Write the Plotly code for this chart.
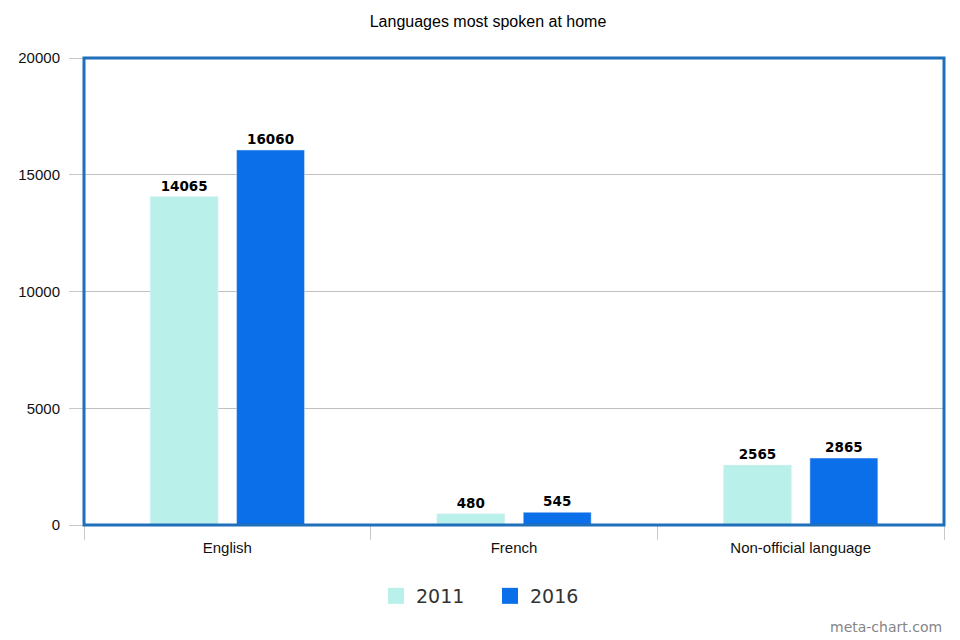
import plotly.graph_objects as go

categories = ["English", "French", "Non-official language"]
values_2011 = [14065, 480, 2565]
values_2016 = [16060, 545, 2865]
y_ticks = [0, 5000, 10000, 15000, 20000]
series_names = ["2011", "2016"]
series_colors = ["#b9f1ea", "#0a6fe8"]

x_pos = list(range(len(categories)))
label_font = dict(family="DejaVu Sans", size=13.5, color="#000000")

fig = go.Figure()
for name, vals, col in zip(series_names, [values_2011, values_2016], series_colors):
    fig.add_trace(go.Bar(
        name=name, x=x_pos, y=vals, marker_color=col, showlegend=False,
        text=[str(v) for v in vals], textposition="outside",
        textfont=label_font, texttemplate="<b>%{text}</b>", cliponaxis=False,
    ))
# legend entries with large square swatches
for name, col in zip(series_names, series_colors):
    fig.add_trace(go.Scatter(
        name=name, x=[None], y=[None], mode="markers",
        marker=dict(symbol="square", size=22, color=col), showlegend=True,
    ))

fig.update_layout(
    width=960, height=640,
    margin=dict(l=76, r=24, t=50, b=123),
    paper_bgcolor="white", plot_bgcolor="white",
    title=dict(text="Languages most spoken at home", x=0.5, xanchor="center",
               y=1 - 13 / 640, yanchor="middle",
               font=dict(family="Liberation Sans, Arial", size=16, color="#000000")),
    barmode="group", bargap=0.397, bargroupgap=0.214,
    font=dict(family="Liberation Sans, Arial", size=15, color="#222222"),
    xaxis=dict(
        range=[-0.5, 2.5], tickmode="array", tickvals=x_pos, ticktext=categories,
        ticks="", showgrid=False, zeroline=False, showline=False, automargin=False,
        tickfont=dict(size=15, color="#111111"), ticklabelstandoff=12,
        minor=dict(tickmode="array", tickvals=[-0.5, 0.5, 1.5, 2.5], ticks="outside",
                   ticklen=14, tickcolor="#c8c8c8", tickwidth=1, showgrid=False),
    ),
    yaxis=dict(
        range=[0, 20000], tickmode="array", tickvals=y_ticks,
        ticktext=[str(v) for v in y_ticks], automargin=False,
        ticks="outside", ticklen=14, tickcolor="#c8c8c8",
        showgrid=True, gridcolor="#c0c0c0", gridwidth=1,
        zeroline=False, showline=False,
        tickfont=dict(size=15, color="#111111"), ticklabelstandoff=6,
    ),
    legend=dict(orientation="h", x=(368 - 76) / 860, xanchor="left",
                y=-(588 - 517) / 467, yanchor="middle",
                font=dict(family="DejaVu Sans", size=19, color="#333333"),
                itemsizing="trace", itemwidth=30, entrywidth=69,
                traceorder="normal"),
    shapes=[dict(type="rect", xref="paper", yref="paper", x0=0, x1=1, y0=0, y1=1,
                 line=dict(color="#1f6fba", width=3), fillcolor="rgba(0,0,0,0)",
                 layer="above")],
    annotations=[dict(text="meta-chart.com", xref="paper", yref="paper",
                      x=1, xanchor="right", y=-(619 - 517) / 467, yanchor="middle",
                      showarrow=False,
                      font=dict(family="DejaVu Sans", size=14, color="#858585"))],
)

fig.write_html("out.html")
